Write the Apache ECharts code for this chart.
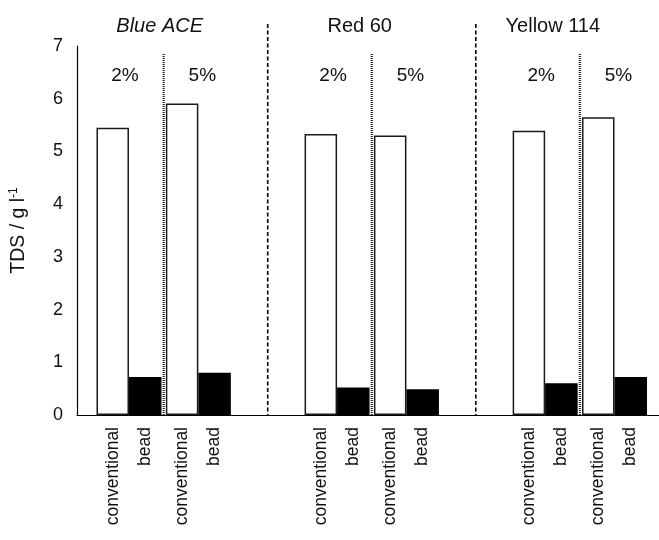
<!DOCTYPE html>
<html>
<head>
<meta charset="utf-8">
<script src="https://cdn.jsdelivr.net/npm/echarts@6/dist/echarts.min.js"></script>
<style>
  html, body { margin: 0; padding: 0; background: #fff; }
  #chart { width: 659px; height: 540px; }
</style>
</head>
<body>
<div id="chart"></div>
<script>
// Dye groups and loadings
const dyes = ['Blue ACE', 'Red 60', 'Yellow 114'];
const loadings = ['2%', '5%'];
// TDS (g/l) per dye, ordered 2%, 5%
const conventionalTDS = [[5.45, 5.91], [5.33, 5.30], [5.39, 5.65]];
const beadTDS = [[0.72, 0.80], [0.52, 0.49], [0.60, 0.72]];
const yTicks = { min: 0, max: 7, step: 1 };
const methodLabels = ['conventional', 'bead'];

const FONT = 'Liberation Sans, Arial, sans-serif';
const INK = '#111';

// Slots along the axis: each dye gets one slot per loading, with an empty slot between dyes
const slots = [];
const convData = [];
const beadData = [];
dyes.forEach((dye, d) => {
  if (d > 0) {
    slots.push({ key: 'gap' + d, dye: null, loading: '', li: -1 });
    convData.push('-');
    beadData.push('-');
  }
  loadings.forEach((ld, l) => {
    slots.push({ key: dye + ' ' + ld, dye: dye, loading: ld, li: l });
    convData.push(conventionalTDS[d][l]);
    beadData.push(beadTDS[d][l]);
  });
});
const slotKeys = slots.map(s => s.key);
const slotByKey = {};
slots.forEach(s => { slotByKey[s.key] = s; });

// Loading labels sit slightly apart from the dotted divider
const loadingAxisData = slots.map(s => ({
  value: s.key,
  textStyle: { padding: s.li === 0 ? [0, 8, 0, 0] : (s.li === 1 ? [0, 0, 0, 8] : 0) }
}));

const chart = echarts.init(document.getElementById('chart'), null, { renderer: 'canvas' });

const option = {
  animation: false,
  backgroundColor: '#fff',
  textStyle: { fontFamily: FONT, color: INK },
  grid: [
    // frame: y axis and baseline
    { left: 77, right: -9, top: 46, bottom: 125 },
    // bars
    { left: 94.3, right: 9.8, top: 46, bottom: 125 }
  ],
  xAxis: [
    {
      gridIndex: 0, type: 'value', min: 0, max: 1,
      axisLine: { show: true, lineStyle: { color: '#000', width: 1.2 } },
      axisTick: { show: false }, axisLabel: { show: false }, splitLine: { show: false }
    },
    {
      gridIndex: 1, type: 'category', data: slotKeys, position: 'bottom',
      axisLine: { show: false }, axisTick: { show: false },
      axisLabel: {
        interval: 0, rotate: 90, margin: 12,
        fontSize: 17.5, fontFamily: FONT, color: INK, lineHeight: 32,
        formatter: v => slotByKey[v].dye ? methodLabels.join('\n') : ''
      },
      splitLine: { show: false }
    },
    {
      gridIndex: 1, type: 'category', data: loadingAxisData, position: 'top',
      axisLine: { show: false }, axisTick: { show: false },
      axisLabel: {
        interval: 0, inside: true, margin: 20,
        fontSize: 19, fontFamily: FONT, color: INK,
        formatter: v => slotByKey[v].loading
      },
      splitLine: { show: false }
    }
  ],
  yAxis: [
    {
      gridIndex: 0, type: 'value', min: yTicks.min, max: yTicks.max, interval: yTicks.step,
      axisLine: { show: true, lineStyle: { color: '#000', width: 1.2 } },
      axisTick: { show: false }, splitLine: { show: false },
      axisLabel: { fontSize: 18, fontFamily: FONT, color: INK, margin: 14 },
      name: 'TDS / g l{sup|-1}',
      nameLocation: 'middle', nameGap: 48, nameRotate: 90,
      nameTextStyle: {
        fontSize: 19.5, fontFamily: FONT, color: INK,
        rich: { sup: { fontSize: 12, fontFamily: FONT, color: INK, verticalAlign: 'top', padding: [0, 0, 9, 0] } }
      }
    },
    {
      gridIndex: 1, type: 'value', min: yTicks.min, max: yTicks.max, interval: yTicks.step,
      show: false
    }
  ],
  series: [
    {
      name: methodLabels[0], type: 'bar', xAxisIndex: 1, yAxisIndex: 1,
      data: convData, barWidth: 32.5, barGap: '0%',
      itemStyle: { color: '#fff', borderColor: '#1a1a1a', borderWidth: 1.5 }
    },
    {
      name: methodLabels[1], type: 'bar', xAxisIndex: 1, yAxisIndex: 1,
      data: beadData, barWidth: 32.5, barGap: '0%',
      itemStyle: { color: '#000' }
    }
  ]
};

chart.setOption(option);

// Separators and dye titles placed from the category axis positions
const xOf = key => chart.convertToPixel({ xAxisIndex: 1 }, key);
const yOf = v => chart.convertToPixel({ yAxisIndex: 0 }, v);
const baseY = yOf(0);
const topY = yOf(yTicks.max);
const graphics = [];
const titleShift = [-4, -12, -27];
dyes.forEach((dye, d) => {
  const x2 = xOf(dye + ' ' + loadings[0]);
  const x5 = xOf(dye + ' ' + loadings[1]);
  const mid = (x2 + x5) / 2;
  // dotted line between the two loadings
  graphics.push({
    type: 'line', silent: true,
    shape: { x1: mid, y1: topY + 8, x2: mid, y2: baseY },
    style: { stroke: '#222', lineWidth: 2.2, lineDash: [1, 1] }
  });
  // dye title
  graphics.push({
    type: 'text', silent: true,
    x: mid + titleShift[d], y: topY - 20,
    style: {
      text: dye, fontSize: 20, fontFamily: FONT, fill: INK,
      fontStyle: d === 0 ? 'italic' : 'normal',
      align: 'center', verticalAlign: 'middle'
    }
  });
  // dashed line between dyes
  if (d > 0) {
    const xg = xOf('gap' + d);
    graphics.push({
      type: 'line', silent: true,
      shape: { x1: xg, y1: topY - 22, x2: xg, y2: baseY },
      style: { stroke: '#000', lineWidth: 1.6, lineDash: [4, 2.5] }
    });
  }
});
chart.setOption({ graphic: graphics });
</script>
</body>
</html>
